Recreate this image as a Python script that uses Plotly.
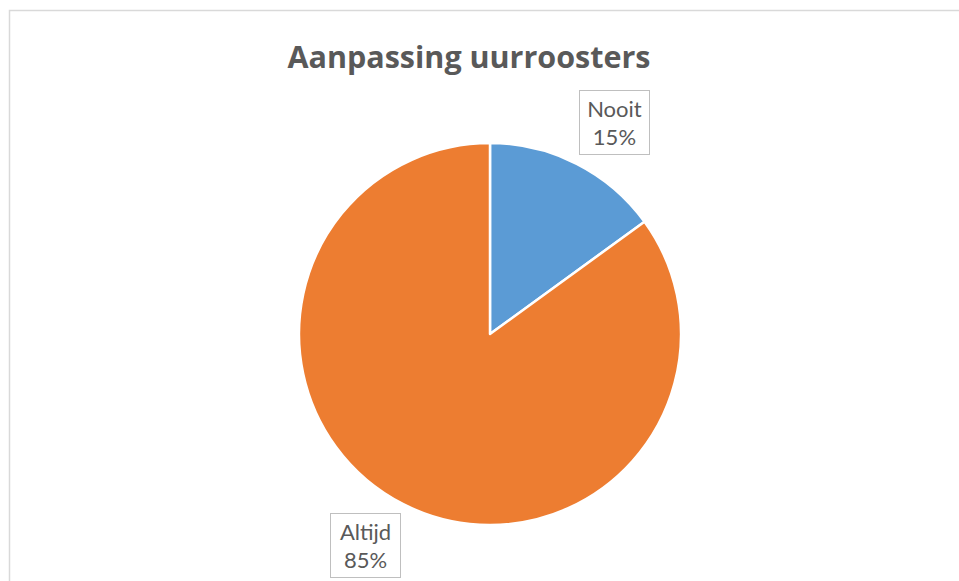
import math
import plotly.graph_objects as go

# --- Data ---
labels = ["Nooit", "Altijd"]
values = [15, 85]
colors = ["#5B9BD5", "#ED7D31"]
title_text = "Aanpassing uurroosters"

W, H = 959, 581
CX, CY, R = 490, 334, 191          # pie centre / radius in px
LABEL_DIST = 246                   # label distance from centre in px
LABEL_SHIFT = 3.5                  # deg, best-fit nudge clockwise

fig = go.Figure(go.Pie(
    labels=labels,
    values=values,
    marker=dict(colors=colors, line=dict(color="white", width=2.5)),
    sort=False,
    direction="clockwise",
    rotation=0,
    textinfo="none",
    hoverinfo="label+percent",
    showlegend=False,
    domain=dict(x=[(CX - R) / W, (CX + R) / W],
                y=[1 - (CY + R) / H, 1 - (CY - R) / H]),
))

# data labels in boxes, placed along each slice's mid angle
total = sum(values)
start = 0.0
for lab, v in zip(labels, values):
    frac = v / total
    mid = (start + frac / 2) * 360 + LABEL_SHIFT
    start += frac
    px_x = CX + LABEL_DIST * math.sin(math.radians(mid))
    px_y = CY - LABEL_DIST * math.cos(math.radians(mid))
    fig.add_annotation(
        x=px_x / W, y=1 - px_y / H, xref="paper", yref="paper",
        xanchor="center", yanchor="middle",
        text=f"{lab}<br>{round(frac * 100)}%",
        showarrow=False, align="center",
        font=dict(family="Lato, Open Sans, sans-serif", size=22, color="#595959"),
        bordercolor="#BFBFBF", borderwidth=1, borderpad=1,
        width=67, height=61, bgcolor="white",
    )

# chart-area border (extends past the right/bottom edge)
fig.add_shape(type="rect", xref="paper", yref="paper",
              x0=9.5 / W, x1=1.05, y0=-0.05, y1=1 - 10.5 / H,
              line=dict(color="#D9D9D9", width=1.5), fillcolor="rgba(0,0,0,0)")

fig.update_layout(
    width=W, height=H,
    margin=dict(l=0, r=0, t=0, b=0),
    paper_bgcolor="white",
    plot_bgcolor="white",
    title=dict(text=f"<b>{title_text}</b>", x=469 / W, xanchor="center",
               y=1 - 57 / H, yanchor="middle",
               font=dict(family="Open Sans, Lato, sans-serif", size=30.5, color="#595959")),
)

# drop the default body margin so the figure sits at the window's corner
fig.write_html("out.html", config={"displayModeBar": False},
               post_script="document.body.style.margin='0';")
